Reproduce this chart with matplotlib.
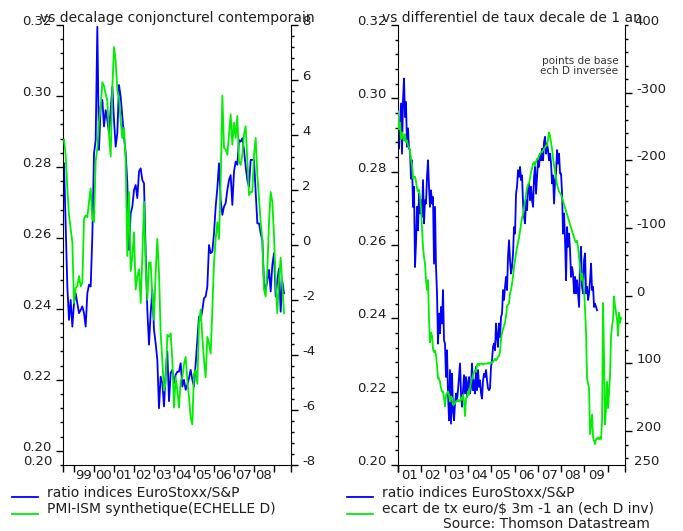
import numpy as np
import matplotlib
matplotlib.use('Agg')
import matplotlib.pyplot as plt
from matplotlib.ticker import MultipleLocator, FixedLocator
from matplotlib.lines import Line2D

plt.rcParams['axes.unicode_minus'] = False
plt.rcParams['font.family'] = 'DejaVu Sans'

BLUE = '#0000ff'
GREEN = '#00ee00'
TXT = '#1e1e1e'

# Left panel: monthly data, first point mid-1998
left_start = 1998.5
ratio_left = [0.2810, 0.2632, 0.2463, 0.2369, 0.2425, 0.2350, 0.2416, 0.2444, 0.2416, 0.2388,
              0.2397, 0.2407, 0.2388, 0.2350, 0.2444, 0.2468, 0.2463, 0.2604, 0.2838, 0.2876,
              0.3195, 0.2848, 0.2970, 0.2989, 0.2914, 0.2960, 0.2932, 0.2895, 0.2960, 0.3026,
              0.2932, 0.2857, 0.2895, 0.3031, 0.2998, 0.2942, 0.2885, 0.2838, 0.2754, 0.2566,
              0.2669, 0.2688, 0.2735, 0.2749, 0.2712, 0.2787, 0.2796, 0.2763, 0.2754, 0.2557,
              0.2397, 0.2299, 0.2388, 0.2453, 0.2341, 0.2303, 0.2256, 0.2120, 0.2209, 0.2191,
              0.2125, 0.2219, 0.2280, 0.2140, 0.2219, 0.2228, 0.2191, 0.2214, 0.2223, 0.2223,
              0.2247, 0.2181, 0.2200, 0.2172, 0.2186, 0.2205, 0.2228, 0.2200, 0.2181, 0.2247,
              0.2313, 0.2378, 0.2369, 0.2397, 0.2430, 0.2435, 0.2463, 0.2580, 0.2557, 0.2561,
              0.2613, 0.2688, 0.2740, 0.2810, 0.2707, 0.2665, 0.2688, 0.2698, 0.2735, 0.2763,
              0.2777, 0.2693, 0.2787, 0.2815, 0.2806, 0.2876, 0.2871, 0.2881, 0.2848, 0.2801,
              0.2763, 0.2744, 0.2820, 0.2820, 0.2820, 0.2730, 0.2641, 0.2641, 0.2613, 0.2594,
              0.2472, 0.2453, 0.2482, 0.2510, 0.2449, 0.2524, 0.2557, 0.2435, 0.2482, 0.2514,
              0.2392, 0.2477, 0.2444]
pmi_ism = [3.83, 3.28, 2.06, 1.08, 0.59, 0.10, -2.11, -1.56, -1.50, -1.13,
           -1.50, -1.37, 0.95, 1.08, 1.01, 1.57, 2.06, 0.95, 0.83, 3.04,
           3.53, 4.51, 5.00, 5.92, 5.79, 5.49, 5.24, 4.02, 3.22, 5.73,
           7.20, 6.71, 5.61, 5.37, 4.51, 3.89, 4.26, 3.04, -0.40, 1.93,
           -0.95, -0.40, 0.46, -1.62, -1.13, -0.89, -2.11, -0.40, 1.57, -0.76,
           -1.99, -0.64, -0.64, -1.87, -2.72, -1.01, 0.22, -1.01, -3.21, -4.19,
           -5.30, -5.05, -3.27, -3.34, -3.21, -4.19, -5.91, -4.81, -5.30, -5.91,
           -4.93, -4.81, -4.32, -4.07, -4.93, -5.54, -6.28, -6.52, -4.68, -4.56,
           -5.05, -2.85, -2.35, -3.34, -4.19, -4.81, -3.34, -3.58, -3.95, -2.35,
           -0.64, 0.22, 0.83, 0.22, 2.30, 5.43, 3.53, 3.47, 3.28, 4.02,
           4.75, 3.65, 4.45, 3.89, 4.69, 3.04, 2.91, 3.28, 4.02, 4.32,
           3.04, 1.81, 1.93, 1.93, 3.28, 3.89, 2.55, 1.69, 0.83, 0.22,
           -1.62, -1.87, -0.89, 0.83, 1.93, 1.57, 0.35, -1.37, -2.48, -1.25,
           -0.46, -1.50, -2.48]

# Right panel: roughly fortnightly data from start of 2001
right_start = 2001.0
right_step = 0.04292
ratio_right = [0.2904, 0.2863, 0.2922, 0.2986, 0.2849, 0.2995, 0.3054, 0.2949, 0.2990, 0.2868,
               0.2918, 0.2863, 0.2859, 0.2781, 0.2831, 0.2704, 0.2759, 0.2540, 0.2604, 0.2704,
               0.2640, 0.2740, 0.2686, 0.2722, 0.2677, 0.2777, 0.2659, 0.2722, 0.2713, 0.2786,
               0.2831, 0.2759, 0.2704, 0.2749, 0.2713, 0.2731, 0.2549, 0.2704, 0.2540, 0.2468,
               0.2331, 0.2413, 0.2359, 0.2431, 0.2386, 0.2477, 0.2340, 0.2331, 0.2240, 0.2313,
               0.2195, 0.2122, 0.2259, 0.2113, 0.2249, 0.2149, 0.2122, 0.2168, 0.2195, 0.2177,
               0.2204, 0.2240, 0.2277, 0.2195, 0.2159, 0.2204, 0.2245, 0.2195, 0.2240, 0.2186,
               0.2222, 0.2240, 0.2195, 0.2213, 0.2277, 0.2204, 0.2231, 0.2195, 0.2268, 0.2204,
               0.2259, 0.2213, 0.2231, 0.2195, 0.2181, 0.2231, 0.2249, 0.2240, 0.2259, 0.2231,
               0.2209, 0.2204, 0.2209, 0.2268, 0.2286, 0.2322, 0.2331, 0.2313, 0.2386, 0.2349,
               0.2322, 0.2386, 0.2349, 0.2404, 0.2413, 0.2477, 0.2450, 0.2486, 0.2513, 0.2477,
               0.2568, 0.2613, 0.2559, 0.2522, 0.2540, 0.2577, 0.2649,
               0.2631, 0.2740, 0.2759, 0.2804, 0.2786, 0.2813, 0.2777, 0.2790, 0.2713, 0.2677,
               0.2659, 0.2722, 0.2695, 0.2759, 0.2768, 0.2722, 0.2759, 0.2722, 0.2704, 0.2786,
               0.2813, 0.2740, 0.2786, 0.2831, 0.2813, 0.2849, 0.2831, 0.2863, 0.2831, 0.2881,
               0.2895, 0.2849, 0.2877, 0.2859, 0.2831, 0.2849, 0.2822, 0.2768, 0.2790, 0.2713,
               0.2777, 0.2795, 0.2859, 0.2822, 0.2849, 0.2795, 0.2795, 0.2740, 0.2631, 0.2686,
               0.2613, 0.2504, 0.2649, 0.2595, 0.2631, 0.2586, 0.2513, 0.2540, 0.2522, 0.2468,
               0.2513, 0.2468, 0.2504, 0.2468, 0.2431, 0.2559, 0.2595, 0.2486, 0.2468, 0.2559,
               0.2577, 0.2468, 0.2486, 0.2450, 0.2468, 0.2504, 0.2549, 0.2477, 0.2486, 0.2431,
               0.2440, 0.2431, 0.2422]
ecart_taux = [-272.7, -246.1, -255.8, -231.6, -241.3, -234.0, -229.1, -238.8, -226.7, -229.1,
              -221.9, -219.5, -214.6, -202.5, -192.8, -173.4, -175.8, -175.8, -168.6, -158.9,
              -154.0, -156.5, -146.8, -129.8, -100.7, -71.7, -57.1, -47.5, -23.2, -8.7,
              -23.2, 34.9, 68.8, 54.3, 59.1, 78.5, 83.4, 80.9, 88.2, 102.7,
              122.1, 122.1, 127.0, 136.7, 141.5, 141.5, 151.2, 163.3, 146.3, 143.9,
              141.5, 146.3, 156.0, 148.8, 151.2, 160.9, 160.9, 158.5, 156.0, 156.0,
              153.6, 156.0, 156.0, 151.2, 153.6, 146.3, 156.0, 177.8, 151.2, 148.8,
              141.5, 146.3, 136.7, 127.0, 122.1, 117.3, 112.4, 110.0, 112.4, 102.7,
              100.3, 102.7, 100.3, 100.3, 100.3, 101.8, 100.3, 100.3, 100.3, 100.3,
              99.3, 100.3, 98.8, 99.3, 97.9, 97.9, 95.5, 93.1, 95.5, 93.1,
              90.6, 88.2, 83.4, 64.0, 54.3, 49.4, 44.6, 39.8, 30.1, 15.5,
              13.1, 10.7, -3.9, -8.7, -18.4, -28.1, -42.6,
              -52.3, -62.0, -71.7, -78.9, -86.2, -95.9, -105.6, -115.3, -120.1, -129.8,
              -139.5, -149.2, -158.9, -163.7, -166.2, -173.4, -183.1, -188.0, -195.2, -197.7,
              -192.8, -197.7, -202.5, -202.5, -207.3, -209.8, -212.2, -212.2, -214.6, -217.0,
              -219.5, -221.9, -221.9, -231.6, -241.3, -236.4, -226.7, -217.0, -202.5, -192.8,
              -183.1, -173.4, -163.7, -158.9, -154.0, -151.6, -149.2, -144.4, -139.5, -134.7,
              -129.8, -125.0, -120.1, -115.3, -110.4, -105.6, -100.7, -95.9, -91.1, -86.2,
              -81.4, -78.9, -81.4, -71.7, -57.1, -42.6, -23.2, -32.9, -23.2, -8.7,
              20.4, 54.3, 122.1, 129.4, 136.7, 204.5, 190.0, 175.4, 209.3, 214.2,
              219.0, 211.8, 211.8, 209.3, 211.8, 209.3, 211.8, 185.1, 10.7, 93.1,
              190.0, 165.7, 127.0, 165.7, 141.5, 117.3, 59.1, 44.6, 34.9, 1.0,
              15.5, 25.2, 34.9, 59.1, 25.2, 39.8, 32.5]

left_xlim = (1998.45, 2009.85)
right_xlim = (2001.0, 2010.74)


def style_pair(ax, ax2, xlim):
    x0, x1 = xlim
    ax.set_xlim(x0, x1)
    years = np.arange(np.ceil(x0), np.floor(x1) + 1)
    ax.set_xticks([x0] + list(years) + [x1])
    ax.set_xticklabels([])
    full = [y for y in years if y + 1 <= x1]
    ax.set_xticks([y + 0.5 for y in full], minor=True)
    ax.set_xticklabels(['%02d' % (int(y) % 100) for y in full], minor=True)
    ax.tick_params(axis='x', which='major', direction='out', length=5, width=1)
    ax.tick_params(axis='x', which='minor', length=0, pad=3, labelsize=9.5, labelcolor=TXT)
    ax.tick_params(axis='y', which='major', direction='out', length=5, width=1,
                   pad=3.5, labelsize=9.5, labelcolor=TXT)
    ax.tick_params(axis='y', which='minor', direction='out', length=2.5, width=1)
    ax2.tick_params(axis='y', which='major', direction='out', length=5, width=1,
                    pad=3, labelsize=9.5, labelcolor=TXT)
    ax2.tick_params(axis='y', which='minor', direction='out', length=2.5, width=1)
    # labels sit just above their tick, like in the original
    for lbl in ax.get_yticklabels() + ax2.get_yticklabels():
        lbl.set_va('baseline')
    for a in (ax, ax2):
        a.spines['top'].set_visible(False)
        a.patch.set_visible(False)
    ax.spines['right'].set_visible(False)
    ax2.spines['left'].set_visible(False)
    ax2.spines['bottom'].set_visible(False)


def limit_label(ax, text, yval, side):
    # the original software also prints a label at the axis limits
    if side == 'left':
        ax.annotate(text, xy=(0, yval), xycoords=('axes fraction', 'data'),
                    xytext=(-10, 0), textcoords='offset pixels', ha='right', va='baseline',
                    fontsize=9.5, color=TXT)
    else:
        ax.annotate(text, xy=(1, yval), xycoords=('axes fraction', 'data'),
                    xytext=(9, 0), textcoords='offset pixels', ha='left', va='baseline',
                    fontsize=9.5, color=TXT)


fig = plt.figure(figsize=(6.83, 5.31), dpi=100)
W, H = 683.0, 531.0
ax_l = fig.add_axes([63 / W, 1 - 465 / H, 228 / W, 440 / H])
ax_l2 = ax_l.twinx()
ax_r = fig.add_axes([398 / W, 1 - 465 / H, 227 / W, 440 / H])
ax_r2 = ax_r.twinx()

# ---- left panel ----
t_left = left_start + np.arange(len(ratio_left)) / 12.0
ax_l.plot(t_left, ratio_left, color=BLUE, lw=1.3)
ax_l2.plot(t_left, pmi_ism, color=GREEN, lw=1.3)
ax_l.set_ylim(0.196, 0.32)
ax_l.yaxis.set_major_locator(FixedLocator(np.round(np.arange(0.20, 0.321, 0.02), 2)))
ax_l.yaxis.set_major_formatter(plt.FormatStrFormatter('%.2f'))
ax_l.yaxis.set_minor_locator(MultipleLocator(0.004))
ax_l2.set_ylim(-8, 8)
ax_l2.yaxis.set_major_locator(FixedLocator(np.arange(-8, 9, 2)))
ax_l2.yaxis.set_minor_locator(MultipleLocator(0.4))
style_pair(ax_l, ax_l2, left_xlim)
limit_label(ax_l, '0.20', 0.196, 'left')
ax_l.set_title('vs decalage conjoncturel contemporain', fontsize=10, color=TXT, pad=0)

# ---- right panel ----
t_right = right_start + right_step * np.arange(len(ratio_right))
t_right2 = right_start + right_step * np.arange(len(ecart_taux))
ax_r.plot(t_right, ratio_right, color=BLUE, lw=1.3)
ax_r2.plot(t_right2, ecart_taux, color=GREEN, lw=1.3)
ax_r.set_ylim(0.20, 0.32)
ax_r.yaxis.set_major_locator(FixedLocator(np.round(np.arange(0.20, 0.321, 0.02), 2)))
ax_r.yaxis.set_major_formatter(plt.FormatStrFormatter('%.2f'))
ax_r.yaxis.set_minor_locator(MultipleLocator(0.004))
ax_r2.set_ylim(250, -400)
ax_r2.yaxis.set_major_locator(FixedLocator(np.arange(-300, 201, 100)))
ax_r2.yaxis.set_minor_locator(MultipleLocator(20))
style_pair(ax_r, ax_r2, right_xlim)
limit_label(ax_r2, '400', -400, 'right')
limit_label(ax_r2, '250', 250, 'right')
ax_r.set_title('vs differentiel de taux decale de 1 an', fontsize=10, color=TXT, pad=0)
ax_r2.text(0.97, 0.93, 'points de base\nech D inversée', transform=ax_r2.transAxes,
           ha='right', va='top', fontsize=7.5, color='#333333', linespacing=1.05)

# ---- legends ----
def legend_row(x0, y, color, label):
    fig.add_artist(Line2D([x0 / W, (x0 + 26) / W], [1 - y / H, 1 - y / H],
                          color=color, lw=1.3, transform=fig.transFigure))
    fig.text((x0 + 35) / W, 1 - (y - 5) / H, label, ha='left', va='center',
             fontsize=10, color=TXT)

legend_row(12, 497, BLUE, 'ratio indices EuroStoxx/S&P')
legend_row(12, 514, GREEN, 'PMI-ISM synthetique(ECHELLE D)')
legend_row(347, 497, BLUE, 'ratio indices EuroStoxx/S&P')
legend_row(347, 514, GREEN, 'ecart de tx euro/$ 3m -1 an (ech D inv)')
fig.text(650 / W, 1 - 524 / H, 'Source: Thomson Datastream', ha='right', va='center',
         fontsize=10, color=TXT)

fig.savefig('out.png', dpi=100)
